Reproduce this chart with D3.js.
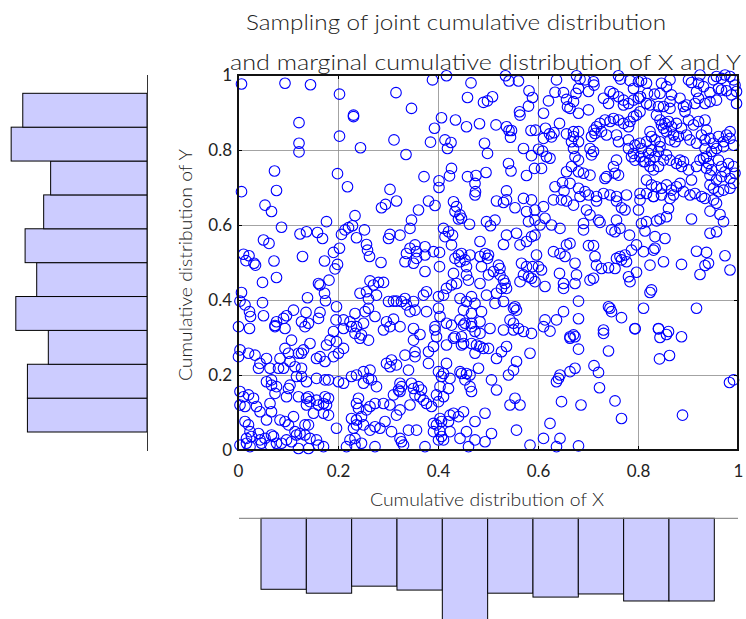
<!DOCTYPE html>
<html>
<head>
<meta charset="utf-8">
<script src="https://cdn.jsdelivr.net/npm/d3@7"></script>
<style>
  body { margin: 0; background: #fff; }
  text { font-family: Lato, "Open Sans", sans-serif; fill: #222; }
</style>
</head>
<body>
<script>
// tick values shared by both axes
const ticks = [0, 0.2, 0.4, 0.6, 0.8, 1];

// marginal histogram counts (10 bins of width 0.1)
const binEdges = [0, 0.1, 0.2, 0.3, 0.4, 0.5, 0.6, 0.7, 0.8, 0.9, 1];
const countsX = [91, 96, 87, 92, 130, 96, 101, 97, 106, 106];
const countsY = [103, 103, 85, 113, 95, 105, 89, 83, 117, 107];

const samples = [
  // upper right
  [.677,.998],[.684,.989],[.694,.987],[.711,.982],[.712,.973],[.701,.956],[.681,.964],[.676,.951],
  [.761,.998],[.765,.989],[.784,.985],[.801,.982],[.807,.985],[.817,.978],[.791,.964],[.847,.978],
  [.864,.987],[.857,.969],[.844,.951],[.833,.949],[.819,.951],[.805,.942],[.901,.987],[.907,.980],
  [.924,1.0],[.921,.978],[.931,.969],[.917,.956],[.944,.953],[.951,.987],[.957,.996],[.967,.991],
  [.974,1.0],[.984,.996],[.991,.987],[.961,.964],[.967,.96],[.977,.958],[.987,.947],[.994,.973],
  [.997,.956],[.997,.924],[.957,.933],[.944,.929],[.934,.924],[.914,.924],[.921,.938],[.731,.938],
  [.744,.956],[.751,.951],[.741,.924],[.761,.942],[.771,.933],[.771,.92],[.781,.924],[.791,.933],
  [.801,.938],[.817,.924],[.824,.92],[.841,.916],[.851,.916],[.864,.929],[.867,.947],[.884,.938],
  [.891,.916],[.897,.92],[.864,.911],[.894,.902],[.701,.907],[.681,.898],[.664,.911],[.671,.929],
  [.804,.902],[.797,.893],[.791,.889],[.784,.876],[.781,.862],[.771,.871],[.761,.88],[.751,.884],
  [.744,.876],[.734,.88],[.724,.871],[.717,.862],[.712,.853],[.714,.844],[.727,.849],[.737,.84],
  [.707,.836],[.681,.849],[.671,.849],[.671,.836],[.667,.822],[.681,.822],[.837,.893],[.844,.88],
  [.847,.867],[.854,.871],[.861,.876],[.851,.858],[.857,.849],[.867,.862],[.877,.871],[.871,.84],
  [.864,.827],[.874,.822],[.881,.836],[.824,.849],[.827,.836],[.817,.822],[.834,.827],[.844,.822],
  [.901,.88],[.911,.867],[.921,.876],[.934,.88],[.937,.853],[.927,.84],[.934,.827],[.944,.831],
  [.951,.818],[.961,.836],[.971,.822],[.977,.84],[.984,.849],[.984,.831],[.991,.813],[.971,.809],
  [.957,.804],[.947,.796],[.934,.804],[.917,.818],[.904,.827],[.897,.84],[.887,.858],[.757,.84],
  [.761,.822],[.781,.827],[.781,.804],[.794,.813],[.804,.818],[.807,.804],[.791,.791],[.794,.773],
  [.787,.782],[.804,.782],[.811,.769],[.824,.773],[.834,.782],[.841,.796],[.844,.809],[.827,.8],
  [.821,.791],[.704,.804],[.711,.796],[.707,.787],[.671,.804],[.674,.782],[.681,.773],[.757,.773],
  [.751,.756],[.754,.738],[.761,.733],[.737,.729],[.734,.724],[.704,.733],[.691,.738],[.681,.742],
  [.667,.756],[.851,.773],[.857,.787],[.864,.773],[.877,.764],[.884,.773],[.891,.769],[.887,.756],
  [.901,.747],[.907,.72],[.917,.756],[.924,.773],[.931,.778],[.937,.782],[.941,.764],[.947,.747],
  [.961,.773],[.967,.756],[.981,.764],[.991,.756],[.994,.738],[.984,.724],[.974,.742],[.967,.729],
  [.957,.72],[.944,.733],[.937,.751],[.817,.72],[.827,.707],[.837,.702],[.847,.698],[.857,.707],
  [.867,.693],[.877,.702],[.884,.711],[.891,.689],[.904,.68],[.914,.684],[.927,.676],[.944,.707],
  [.951,.698],[.961,.689],[.971,.693],[.984,.698],[.991,.711],[.841,.756],[.831,.747],[.824,.756],
  [.814,.769],[.664,.711],[.681,.698],[.694,.689],[.717,.676],[.731,.684],[.744,.68],[.757,.676],
  [.777,.68],[.804,.684],[.817,.684],[.831,.676],
  // upper left
  [.007,.976],[.094,.978],[.145,.974],[.203,.949],[.316,.953],[.231,.893],[.231,.889],[.122,.873],
  [.203,.837],[.122,.818],[.122,.795],[.245,.806],[.312,.827],[.073,.744],[.199,.737],[.219,.702],
  [.007,.689],[.077,.692],[.304,.695],
  // upper middle
  [.417,.998],[.389,.987],[.466,.979],[.535,.998],[.542,.984],[.561,.984],[.637,.987],[.582,.958],
  [.589,.940],[.459,.940],[.491,.927],[.499,.931],[.509,.942],[.347,.911],[.581,.917],[.563,.902],
  [.564,.893],[.621,.931],[.634,.954],[.651,.953],[.657,.935],[.611,.898],[.659,.915],[.407,.886],
  [.435,.880],[.457,.862],[.483,.870],[.516,.867],[.393,.858],[.537,.862],[.542,.852],[.547,.852],
  [.545,.834],[.586,.852],[.595,.853],[.643,.871],[.615,.858],[.623,.843],[.627,.835],[.632,.846],
  [.611,.831],[.657,.843],[.385,.821],[.414,.827],[.426,.820],[.419,.804],[.493,.818],[.499,.791],
  [.571,.804],[.601,.802],[.609,.797],[.617,.782],[.624,.778],[.587,.785],[.336,.788],[.427,.751],
  [.423,.731],[.372,.729],[.402,.718],[.402,.700],[.459,.729],[.476,.732],[.474,.711],[.496,.740],
  [.475,.689],[.541,.764],[.546,.744],[.577,.732],[.593,.751],[.607,.751],[.657,.742],[.537,.691],
  [.634,.702],[.649,.713],[.652,.691],
  // middle left
  [.054,.653],[.067,.636],[.087,.594],[.051,.56],[.062,.551],[.124,.576],[.137,.582],[.159,.58],
  [.169,.564],[.177,.609],[.129,.516],[.011,.522],[.022,.518],[.016,.505],[.032,.498],[.035,.493],
  [.072,.504],[.049,.447],[.077,.46],[.161,.444],[.164,.44],[.173,.418],[.182,.453],[.173,.504],
  [.191,.527],[.199,.495],[.194,.483],[.203,.538],[.207,.575],[.214,.587],[.221,.593],[.229,.598],
  [.234,.625],[.237,.566],[.253,.587],[.257,.548],[.259,.533],[.263,.516],[.286,.5],[.287,.646],
  [.295,.655],[.317,.664],[.304,.575],[.301,.564],[.139,.406],[.175,.398],[.007,.42],[.004,.397],
  [.014,.387],[.023,.369],[.025,.356],[.049,.393],[.051,.358],[.111,.373],[.097,.358],[.091,.351],
  [.077,.342],[.074,.332],[.136,.367],[.127,.342],[.141,.338],[.164,.367],[.161,.351],[.197,.382],
  [.196,.347],[.211,.347],[.224,.342],[.234,.364],[.254,.369],[.261,.378],[.274,.356],[.237,.329],
  [.251,.338],[.297,.342],[.311,.349],[.244,.418],[.257,.422],[.264,.451],[.271,.44],[.277,.413],
  [.261,.403],[.281,.447],[.291,.447],[.301,.396],[.311,.397],[.317,.397],
  // centre
  [.381,.664],[.394,.652],[.361,.64],[.431,.662],[.437,.649],[.434,.636],[.444,.627],[.441,.616],
  [.447,.618],[.474,.68],[.517,.664],[.531,.66],[.537,.667],[.554,.646],[.571,.671],[.587,.667],
  [.577,.636],[.594,.64],[.581,.609],[.594,.613],[.611,.649],[.631,.667],[.647,.667],[.657,.664],
  [.347,.613],[.344,.591],[.324,.573],[.411,.591],[.421,.582],[.414,.569],[.429,.573],[.427,.547],
  [.463,.602],[.497,.609],[.505,.598],[.514,.613],[.537,.573],[.531,.548],[.557,.578],[.484,.556],
  [.577,.556],[.564,.547],[.587,.569],[.594,.573],[.604,.6],[.614,.618],[.627,.6],[.644,.591],
  [.344,.538],[.354,.547],[.357,.529],[.374,.542],[.374,.52],[.337,.524],[.334,.502],[.351,.498],
  [.357,.511],[.391,.529],[.403,.527],[.403,.489],[.374,.476],[.434,.511],[.441,.52],[.447,.524],
  [.444,.502],[.454,.507],[.464,.52],[.457,.489],[.457,.467],[.461,.453],[.431,.471],[.437,.444],
  [.484,.516],[.494,.524],[.499,.511],[.501,.52],[.487,.489],[.501,.467],[.484,.444],[.511,.476],
  [.521,.493],[.524,.484],[.524,.467],[.531,.453],[.534,.444],[.537,.431],[.527,.431],[.517,.418],
  [.567,.498],[.577,.489],[.571,.467],[.581,.462],[.589,.489],[.601,.489],[.607,.48],[.594,.449],
  [.587,.458],[.564,.449],[.614,.436],[.643,.471],[.651,.444],[.651,.431],[.631,.529],[.644,.524],
  [.654,.516],[.657,.547],[.597,.52],[.427,.44],[.417,.431],[.411,.413],[.401,.409],[.377,.422],
  [.371,.413],[.334,.404],[.351,.396],[.337,.387],[.327,.396],[.354,.373],[.344,.369],[.377,.369],
  [.401,.378],[.404,.356],[.417,.338],[.394,.329],[.444,.404],[.457,.396],[.467,.409],[.474,.391],
  [.451,.373],[.467,.364],[.487,.369],[.484,.342],[.467,.338],[.454,.338],[.444,.347],[.497,.413],
  [.514,.391],[.531,.396],[.551,.378],[.557,.373],[.554,.382],[.544,.347],[.551,.338],[.614,.347],
  [.637,.347],[.651,.369],
  // middle right
  [.684,.676],[.701,.68],[.717,.664],[.671,.653],[.697,.64],[.704,.627],[.721,.613],[.724,.607],
  [.691,.604],[.691,.587],[.664,.551],[.701,.545],[.711,.545],[.757,.664],[.767,.646],[.774,.64],
  [.757,.613],[.747,.587],[.754,.582],[.764,.591],[.783,.573],[.801,.64],[.804,.667],[.807,.604],
  [.817,.609],[.814,.584],[.834,.569],[.854,.564],[.834,.538],[.831,.676],[.847,.68],[.864,.671],
  [.871,.68],[.861,.644],[.857,.622],[.844,.616],[.837,.611],[.907,.616],[.934,.671],[.951,.667],
  [.957,.658],[.944,.637],[.964,.628],[.971,.609],[.944,.578],[.957,.582],[.797,.547],[.787,.533],
  [.774,.52],[.764,.516],[.757,.511],[.767,.507],[.777,.502],[.754,.484],[.741,.486],[.727,.484],
  [.717,.493],[.714,.516],[.674,.498],[.677,.467],[.674,.444],[.704,.453],[.711,.458],[.811,.529],
  [.831,.533],[.851,.502],[.824,.493],[.797,.474],[.781,.462],[.784,.449],[.887,.495],[.917,.53],
  [.937,.527],[.934,.492],[.941,.498],[.924,.468],[.974,.518],[.984,.48],[.824,.42],[.827,.427],
  [.681,.397],[.741,.382],[.744,.378],[.747,.369],[.767,.353],[.811,.378],[.681,.35],[.917,.378],
  [.731,.32],[.794,.324],[.841,.324],[.861,.316],
  // lower left
  [.001,.329],[.023,.324],[.074,.329],[.094,.324],[.134,.329],[.191,.316],[.211,.324],[.227,.329],
  [.234,.311],[.247,.307],[.261,.293],[.244,.298],[.291,.32],[.304,.329],[.324,.329],[.004,.267],
  [.001,.249],[.021,.258],[.034,.253],[.057,.244],[.044,.231],[.041,.218],[.064,.218],[.107,.293],
  [.094,.271],[.101,.258],[.121,.258],[.127,.258],[.131,.267],[.144,.284],[.104,.236],[.084,.244],
  [.091,.218],[.081,.218],[.067,.187],[.157,.244],[.164,.249],[.174,.236],[.177,.28],[.191,.249],
  [.201,.258],[.184,.293],[.197,.289],[.211,.271],[.114,.222],[.127,.218],[.117,.196],[.104,.173],
  [.127,.196],[.137,.182],[.057,.182],[.067,.173],[.077,.169],[.074,.151],[.101,.164],[.097,.142],
  [.121,.142],[.137,.138],[.157,.191],[.174,.187],[.181,.187],[.201,.182],[.211,.178],[.227,.196],
  [.237,.2],[.251,.209],[.264,.213],[.261,.191],[.251,.178],[.267,.187],[.277,.169],[.297,.231],
  [.304,.222],[.317,.227],[.307,.24],[.321,.16],[.311,.147],[.004,.156],[.011,.142],[.021,.147],
  [.031,.138],[.004,.12],[.014,.116],[.037,.116],[.044,.102],[.057,.08],[.064,.124],[.067,.102],
  [.084,.08],[.094,.076],[.111,.089],[.101,.067],[.114,.049],[.124,.044],[.117,.04],[.134,.067],
  [.141,.067],[.134,.04],[.144,.031],[.157,.027],[.141,.142],[.144,.129],[.137,.12],[.157,.133],
  [.161,.12],[.171,.124],[.174,.142],[.181,.138],[.177,.12],[.151,.098],[.171,.098],[.181,.093],
  [.014,.076],[.021,.067],[.024,.049],[.017,.031],[.027,.036],[.041,.044],[.044,.027],[.054,.031],
  [.067,.04],[.071,.036],[.077,.018],[.064,.013],[.004,.013],[.017,.018],[.024,.009],[.047,.018],
  [.087,.018],[.097,.027],[.107,.022],[.121,.004],[.141,.004],[.161,.013],[.171,.009],[.197,.058],
  [.224,.027],[.234,.031],[.231,.058],[.237,.067],[.251,.067],[.264,.053],[.274,.062],[.284,.058],
  [.294,.076],[.307,.049],[.324,.031],[.317,.093],[.304,.12],[.291,.124],[.274,.124],[.264,.116],
  [.257,.107],[.247,.089],[.237,.08],[.227,.084],[.217,.009],[.234,.013],[.247,.018],[.274,.009],
  [.241,.138],[.237,.124],[.241,.111],
  // lower middle
  [.351,.324],[.364,.308],[.394,.32],[.397,.302],[.427,.333],[.451,.333],[.467,.329],[.474,.316],
  [.484,.311],[.504,.324],[.531,.32],[.551,.32],[.561,.324],[.571,.316],[.587,.311],[.611,.329],
  [.624,.317],[.664,.302],[.351,.293],[.354,.262],[.354,.249],[.334,.253],[.381,.262],[.391,.276],
  [.417,.28],[.431,.298],[.434,.302],[.447,.302],[.447,.28],[.451,.284],[.467,.284],[.474,.258],
  [.477,.28],[.484,.276],[.491,.271],[.501,.271],[.517,.244],[.527,.262],[.537,.276],[.584,.258],
  [.341,.213],[.381,.231],[.417,.231],[.401,.209],[.411,.204],[.407,.196],[.424,.191],[.444,.209],
  [.447,.204],[.457,.204],[.464,.2],[.481,.218],[.454,.187],[.464,.169],[.467,.156],[.507,.187],
  [.517,.16],[.541,.2],[.551,.213],[.557,.236],[.324,.178],[.327,.169],[.324,.156],[.347,.178],
  [.351,.164],[.361,.169],[.367,.16],[.354,.147],[.364,.142],[.371,.133],[.377,.124],[.387,.116],
  [.344,.12],[.324,.107],[.397,.147],[.411,.142],[.421,.164],[.404,.169],[.401,.129],[.404,.084],
  [.391,.071],[.397,.067],[.407,.076],[.421,.076],[.424,.093],[.431,.098],[.441,.089],[.451,.102],
  [.391,.049],[.404,.049],[.407,.036],[.401,.027],[.411,.027],[.424,.049],[.444,.031],[.457,.049],
  [.474,.076],[.494,.098],[.507,.044],[.494,.022],[.474,.027],[.461,.009],[.557,.053],[.611,.031],
  [.584,.013],[.644,.031],[.637,.009],[.374,.009],[.341,.053],[.357,.053],[.544,.12],[.554,.138],
  [.564,.12],[.624,.071],[.641,.191],[.644,.2],[.637,.182],[.647,.129],[.327,.022],[.331,.013],
  // lower right
  [.671,.307],[.674,.302],[.664,.298],[.731,.311],[.794,.323],[.841,.323],[.844,.3],[.857,.308],
  [.887,.302],[.681,.269],[.741,.264],[.843,.243],[.863,.252],[.674,.218],[.664,.209],[.712,.225],
  [.721,.207],[.723,.166],[.686,.12],[.754,.131],[.767,.084],[.889,.093],[.681,.011],[.983,.18],
  [.991,.187]
];

const W = 746, H = 619;
const svg = d3.select("body").append("svg")
  .attr("width", W)
  .attr("height", H);

// main axes area
const x = d3.scaleLinear().domain([0, 1]).range([238, 738]);
const y = d3.scaleLinear().domain([0, 1]).range([450, 75]);

// grid
svg.append("g")
  .attr("transform", "translate(0,450)")
  .call(d3.axisBottom(x).tickValues(ticks.slice(1, -1)).tickSize(-375).tickFormat(""))
  .call(g => g.select(".domain").remove())
  .selectAll("line").attr("stroke", "#8c8c8c").attr("stroke-width", 0.8);
svg.append("g")
  .attr("transform", "translate(238,0)")
  .call(d3.axisLeft(y).tickValues(ticks.slice(1, -1)).tickSize(-500).tickFormat(""))
  .call(g => g.select(".domain").remove())
  .selectAll("line").attr("stroke", "#8c8c8c").attr("stroke-width", 0.8);

// scatter
svg.append("g")
  .selectAll("circle")
  .data(samples)
  .enter()
  .append("circle")
  .attr("cx", d => x(d[0]))
  .attr("cy", d => y(d[1]))
  .attr("r", 5.3)
  .attr("fill", "none")
  .attr("stroke", "#0000ff")
  .attr("stroke-width", 1.1);

// inward ticks on all four sides
const fmt = d3.format("~g");
svg.append("g").attr("transform", "translate(0,450)")
  .call(d3.axisBottom(x).tickValues(ticks).tickSize(-4).tickFormat(""));
svg.append("g").attr("transform", "translate(0,75)")
  .call(d3.axisTop(x).tickValues(ticks).tickSize(-4).tickFormat(""));
svg.append("g").attr("transform", "translate(238,0)")
  .call(d3.axisLeft(y).tickValues(ticks).tickSize(-4).tickFormat(""));
svg.append("g").attr("transform", "translate(738,0)")
  .call(d3.axisRight(y).tickValues(ticks).tickSize(-4).tickFormat(""));
svg.selectAll(".domain").remove();

// tick labels
svg.append("g").attr("transform", "translate(0,450)")
  .call(d3.axisBottom(x).tickValues(ticks).tickSize(0).tickPadding(15).tickFormat(fmt))
  .call(g => g.select(".domain").remove())
  .selectAll("text").style("font-size", "17px").attr("fill", "#222");
svg.append("g").attr("transform", "translate(238,0)")
  .call(d3.axisLeft(y).tickValues(ticks).tickSize(0).tickPadding(6).tickFormat(fmt))
  .call(g => g.select(".domain").remove())
  .selectAll("text").style("font-size", "17px").attr("fill", "#222");

// box
svg.append("rect")
  .attr("x", 238).attr("y", 75)
  .attr("width", 500).attr("height", 375)
  .attr("fill", "none")
  .attr("stroke", "#111")
  .attr("stroke-width", 2);

// labels
svg.append("text")
  .attr("x", 487).attr("y", 506)
  .attr("text-anchor", "middle")
  .attr("textLength", 234).attr("lengthAdjust", "spacingAndGlyphs")
  .style("font-size", "17px").style("font-weight", 300)
  .text("Cumulative distribution of X");
svg.append("text")
  .attr("transform", "translate(192,265) rotate(-90)")
  .attr("text-anchor", "middle")
  .attr("textLength", 232).attr("lengthAdjust", "spacingAndGlyphs")
  .style("font-size", "17px").style("font-weight", 300)
  .text("Cumulative distribution of Y");

// title, two lines
svg.append("text")
  .attr("x", 246).attr("y", 30)
  .attr("textLength", 420).attr("lengthAdjust", "spacingAndGlyphs")
  .style("font-size", "22px").style("font-weight", 300)
  .text("Sampling of joint cumulative distribution");
svg.append("text")
  .attr("x", 230).attr("y", 70)
  .attr("textLength", 511).attr("lengthAdjust", "spacingAndGlyphs")
  .style("font-size", "22px").style("font-weight", 300)
  .text("and marginal cumulative distribution of X and Y");

// marginal of X, below, bars hanging down
const bins = d3.range(10);
const hx = d3.scaleLinear().domain([0, 1]).range([261, 714.3]);
const hxLen = d3.scaleLinear().domain([0, 100]).range([518.3, 596.3]);
svg.append("g")
  .selectAll("rect")
  .data(bins)
  .enter()
  .append("rect")
  .attr("x", i => hx(binEdges[i]))
  .attr("width", i => hx(binEdges[i + 1]) - hx(binEdges[i]))
  .attr("y", hxLen(0))
  .attr("height", i => hxLen(countsX[i]) - hxLen(0))
  .attr("fill", "#ccccff")
  .attr("stroke", "#000")
  .attr("stroke-width", 1);
svg.append("line")
  .attr("x1", 239).attr("x2", 738)
  .attr("y1", 518.3).attr("y2", 518.3)
  .attr("stroke", "#777").attr("stroke-width", 1);

// marginal of Y, on the left, bars pointing left
const hy = d3.scaleLinear().domain([0, 1]).range([432, 93.3]);
const hyLen = d3.scaleLinear().domain([0, 100]).range([147, 30.9]);
svg.append("g")
  .selectAll("rect")
  .data(bins)
  .enter()
  .append("rect")
  .attr("y", i => hy(binEdges[i + 1]))
  .attr("height", i => hy(binEdges[i]) - hy(binEdges[i + 1]))
  .attr("x", i => hyLen(countsY[i]))
  .attr("width", i => hyLen(0) - hyLen(countsY[i]))
  .attr("fill", "#ccccff")
  .attr("stroke", "#000")
  .attr("stroke-width", 1);
svg.append("line")
  .attr("x1", 147.5).attr("x2", 147.5)
  .attr("y1", 75).attr("y2", 451)
  .attr("stroke", "#333").attr("stroke-width", 1);
</script>
</body>
</html>
